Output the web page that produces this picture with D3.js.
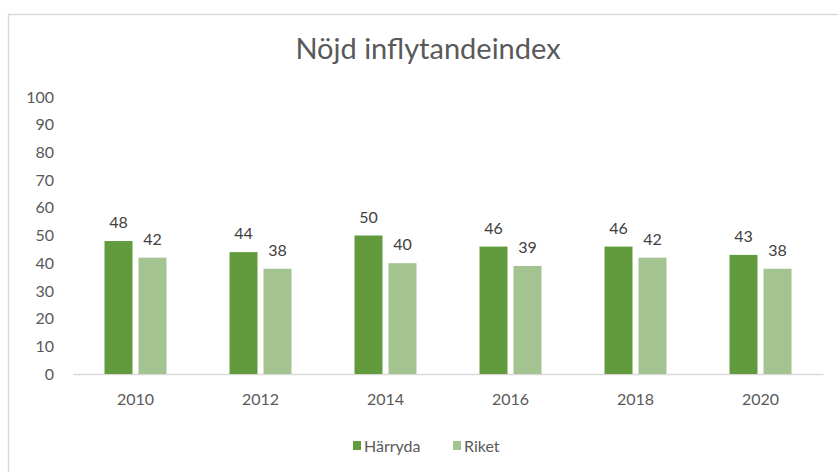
<!DOCTYPE html>
<html>
<head>
<meta charset="utf-8">
<script src="https://cdn.jsdelivr.net/npm/d3@7"></script>
<style>
  body { margin: 0; background: #fff; }
  text { font-family: Lato, "Open Sans", sans-serif; }
</style>
</head>
<body>
<svg class="chart"></svg>
<script>
// -------------------- Data --------------------
var years = ["2010", "2012", "2014", "2016", "2018", "2020"];
var harryda = [48, 44, 50, 46, 46, 43];
var riket = [42, 38, 40, 39, 42, 38];
var seriesNames = ["Härryda", "Riket"];
var yTicks = [0, 10, 20, 30, 40, 50, 60, 70, 80, 90, 100];

var colors = ["#629b3d", "#a3c490"];

// -------------------- Settings --------------------
var W = 838, H = 472;
var margin = {top: 97, left: 73, right: 15, bottom: 98};
var width = 823 - margin.left, height = 374 - margin.top;

var svg = d3.select(".chart").attr("width", W).attr("height", H);

// chart frame
svg.append("rect")
  .attr("x", 8.5).attr("y", 14.5)
  .attr("width", 840).attr("height", 470)
  .attr("fill", "none").attr("stroke", "#d9d9d9").attr("stroke-width", 1.5);

svg.append("text")
  .attr("x", 428).attr("y", 59)
  .attr("text-anchor", "middle")
  .attr("font-size", 29)
  .attr("fill", "#595959")
  .text("Nöjd inflytandeindex");

var chart = svg.append("g")
  .attr("transform", "translate(" + margin.left + "," + margin.top + ")");

// -------------------- Scales --------------------
var y = d3.scaleLinear().domain([0, 100]).range([height, 0]);
var x = d3.scaleBand().domain(years).range([0, width]);
var barW = 28, gap = 6;
var xs = d3.scaleOrdinal().domain(seriesNames)
  .range([-(barW + gap / 2), gap / 2]);

// y labels (no axis line)
chart.selectAll(".ylab")
  .data(yTicks)
  .enter().append("text")
    .attr("class", "ylab")
    .attr("x", -19)
    .attr("y", function(d) { return y(d); })
    .attr("dy", "0.35em")
    .attr("text-anchor", "end")
    .attr("font-size", 16)
    .attr("fill", "#595959")
    .text(function(d) { return d; });

// x axis
var xAxis = d3.axisBottom(x).tickSize(0).tickPadding(20);
var gx = chart.append("g")
  .attr("transform", "translate(0," + height + ")")
  .call(xAxis);
gx.select(".domain").attr("stroke", "#d9d9d9").attr("stroke-width", 1.5);
gx.selectAll("text")
  .attr("font-size", 16)
  .attr("fill", "#595959")
  .style("font-family", "Lato, 'Open Sans', sans-serif");

// -------------------- Bars --------------------
var rows = [];
years.forEach(function(yr, i) {
  rows.push({year: yr, name: seriesNames[0], value: harryda[i], c: colors[0]});
  rows.push({year: yr, name: seriesNames[1], value: riket[i], c: colors[1]});
});

chart.selectAll(".bar")
  .data(rows)
  .enter().append("rect")
    .attr("class", "bar")
    .attr("x", function(d) { return x(d.year) + x.bandwidth() / 2 + xs(d.name); })
    .attr("y", function(d) { return y(d.value); })
    .attr("width", barW)
    .attr("height", function(d) { return height - y(d.value); })
    .attr("fill", function(d) { return d.c; });

chart.selectAll(".vlab")
  .data(rows)
  .enter().append("text")
    .attr("class", "vlab")
    .attr("x", function(d) { return x(d.year) + x.bandwidth() / 2 + xs(d.name) + barW / 2; })
    .attr("y", function(d) { return y(d.value) - 13; })
    .attr("text-anchor", "middle")
    .attr("font-size", 16)
    .attr("fill", "#404040")
    .text(function(d) { return d.value; });

// -------------------- Legend --------------------
var legX = [353, 453];
var leg = svg.selectAll(".leg")
  .data(seriesNames)
  .enter().append("g")
    .attr("class", "leg")
    .attr("transform", function(d, i) { return "translate(" + legX[i] + ",441)"; });
leg.append("rect")
  .attr("width", 8).attr("height", 9)
  .attr("fill", function(d, i) { return colors[i]; });
leg.append("text")
  .attr("x", 11).attr("y", 5)
  .attr("dy", "0.35em")
  .attr("font-size", 16)
  .attr("fill", "#595959")
  .text(function(d) { return d; });
</script>
</body>
</html>
